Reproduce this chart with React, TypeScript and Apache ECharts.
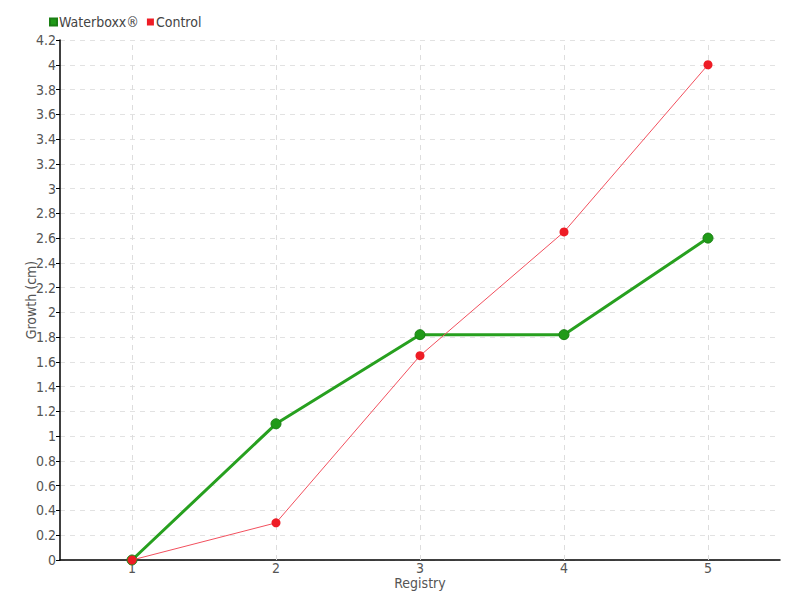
import React, { useEffect, useRef } from "react";
import * as echarts from "echarts";

const categories = ["1", "2", "3", "4", "5"];
const waterboxx = [0, 1.1, 1.82, 1.82, 2.6];
const control = [0, 0.3, 1.65, 2.65, 4.0];
const seriesNames = ["Waterboxx®", "Control"];

const FONT = "'Liberation Sans Narrow', 'DejaVu Sans Condensed', sans-serif";

export default function App() {
  const ref = useRef<HTMLDivElement>(null);
  useEffect(() => {
    if (!ref.current) return;
    const chart = echarts.init(ref.current, undefined, { renderer: "svg" });
    chart.setOption({
      animation: false,
      textStyle: { fontFamily: FONT },
      legend: {
        data: seriesNames,
        left: 44,
        top: 10,
        icon: "rect",
        itemWidth: 7,
        itemHeight: 7,
        itemGap: 8,
        textStyle: { fontFamily: FONT, fontSize: 14, color: "#444", padding: [0, 0, 0, -3] },
      },
      grid: { left: 60, top: 40, width: 720, height: 520, containLabel: false, outerBoundsMode: "none" },
      xAxis: {
        type: "category",
        data: categories,
        boundaryGap: true,
        name: "Registry",
        nameLocation: "middle",
        nameGap: 16,
        nameMoveOverlap: false,
        nameTextStyle: { fontFamily: FONT, fontSize: 14, lineHeight: 14, color: "#555" },
        axisLine: { lineStyle: { color: "#000", width: 1.5 } },
        axisTick: { show: false },
        axisLabel: { fontFamily: FONT, fontSize: 14, lineHeight: 14, color: "#555", margin: 1 },
        splitLine: { show: false },
      },
      yAxis: {
        type: "value",
        min: 0,
        max: 4.2,
        interval: 0.2,
        name: "Growth (cm)",
        nameLocation: "middle",
        nameGap: 22,
        nameMoveOverlap: false,
        nameTextStyle: { fontFamily: FONT, fontSize: 14, color: "#555" },
        axisLine: { show: true, lineStyle: { color: "#000", width: 1.5 } },
        axisTick: { show: true, length: 4, lineStyle: { color: "#000" } },
        axisLabel: { fontFamily: FONT, fontSize: 14, color: "#555", margin: 4 },
        splitLine: { show: true, lineStyle: { type: [5, 5], color: "#e2e2e2", width: 1 } },
      },
      series: [
        {
          type: "line",
          name: "grid",
          data: [],
          z: 1,
          markLine: {
            silent: true,
            z: 1,
            symbol: "none",
            label: { show: false },
            lineStyle: { type: [5, 5], color: "#dddddd", width: 1 },
            data: categories.map((c) => ({ xAxis: c })),
          },
        },
        {
          type: "line",
          name: seriesNames[0],
          data: waterboxx,
          z: 3,
          symbol: "circle",
          symbolSize: 10,
          lineStyle: { color: "#27a01f", width: 3 },
          itemStyle: { color: "#209a18", borderColor: "#1a7f14", borderWidth: 1 },
        },
        {
          type: "line",
          name: seriesNames[1],
          data: control,
          z: 4,
          symbol: "circle",
          symbolSize: 9,
          lineStyle: { color: "#f2505e", width: 1 },
          itemStyle: { color: "#ee1c25", borderWidth: 0 },
        },
      ],
    });
    return () => chart.dispose();
  }, []);
  return (
    <div
      ref={ref}
      style={{ position: "absolute", left: 0, top: 0, width: 800, height: 600, background: "#fff" }}
    />
  );
}
